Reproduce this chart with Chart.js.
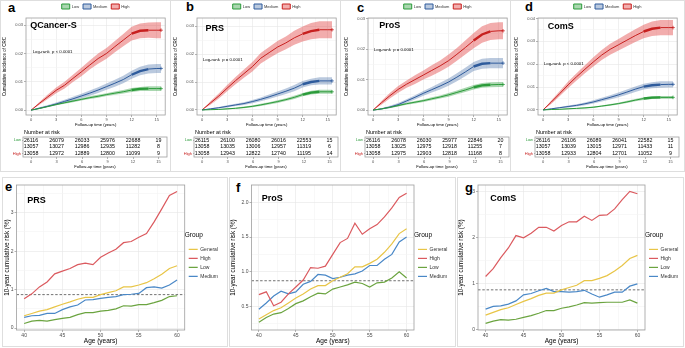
<!DOCTYPE html>
<html>
<head>
<meta charset="utf-8">
<script src="https://cdn.jsdelivr.net/npm/chart.js@4.4.1/dist/chart.umd.min.js"></script>
<style>
  body { margin: 0; background: #fff; width: 685px; height: 348px; position: relative; overflow: hidden;
         font-family: "Liberation Sans", Arial, sans-serif; }
  .box { position: absolute; border: 1px solid #dedede; box-sizing: border-box; }
  .tag { position: absolute; font-weight: bold; font-size: 13px; line-height: 1; }
  canvas { position: absolute; }
</style>
</head>
<body>
<div class="box" style="left:0;top:0;width:171px;height:172px"></div>
<div class="box" style="left:170px;top:0;width:171px;height:172px"></div>
<div class="box" style="left:340px;top:0;width:171px;height:172px"></div>
<div class="box" style="left:510px;top:0;width:175px;height:172px"></div>
<div class="box" style="left:2px;top:177px;width:226px;height:170px"></div>
<div class="box" style="left:229px;top:177px;width:227px;height:170px"></div>
<div class="box" style="left:457px;top:177px;width:227px;height:170px"></div>

<div class="tag" style="left:8px;top:1px">a</div>
<div class="tag" style="left:186px;top:0px">b</div>
<div class="tag" style="left:357px;top:1px">c</div>
<div class="tag" style="left:525px;top:0px">d</div>
<div class="tag" style="left:5px;top:180px">e</div>
<div class="tag" style="left:236px;top:181px">f</div>
<div class="tag" style="left:465px;top:181px">g</div>

<canvas id="kmA" width="170" height="128" style="left:0;top:0"></canvas>
<canvas id="kmB" width="170" height="128" style="left:171px;top:0"></canvas>
<canvas id="kmC" width="170" height="128" style="left:342px;top:0"></canvas>
<canvas id="kmD" width="170" height="128" style="left:512px;top:0"></canvas>
<canvas id="riskA" width="170" height="43" style="left:0;top:127px"></canvas>
<canvas id="riskB" width="170" height="43" style="left:171px;top:127px"></canvas>
<canvas id="riskC" width="170" height="43" style="left:342px;top:127px"></canvas>
<canvas id="riskD" width="170" height="43" style="left:512px;top:127px"></canvas>
<canvas id="ageE" width="225" height="168" style="left:3px;top:178px"></canvas>
<canvas id="ageF" width="226" height="168" style="left:229px;top:178px"></canvas>
<canvas id="ageG" width="226" height="168" style="left:457px;top:178px"></canvas>

<script>
// ---- cumulative incidence curves (a-d) ----
const kmTime = [0, 1, 2, 3, 4, 5, 6, 7, 8, 9, 10, 11, 12, 13, 14, 15, 15.5];

const qcLow    = [0, 0.0006, 0.0013, 0.002, 0.0026, 0.0032, 0.0038, 0.0044, 0.0049, 0.0055, 0.006, 0.0065, 0.0071, 0.0075, 0.0076, 0.0076, 0.0076];
const qcMedium = [0, 0.0007, 0.0014, 0.0022, 0.0031, 0.004, 0.005, 0.006, 0.0071, 0.0083, 0.0095, 0.0108, 0.0125, 0.0138, 0.0145, 0.0147, 0.0147];
const qcHigh   = [0, 0.0024, 0.0047, 0.007, 0.0088, 0.0112, 0.0135, 0.0159, 0.0182, 0.02, 0.0224, 0.0247, 0.027, 0.028, 0.0282, 0.0282, 0.0282];
const qcLowCI    = [0, 0.0002, 0.0002, 0.0003, 0.0003, 0.0004, 0.0004, 0.0005, 0.0005, 0.0005, 0.0006, 0.0006, 0.0007, 0.0007, 0.0008, 0.0008, 0.0008];
const qcMediumCI = [0, 0.0003, 0.0004, 0.0005, 0.0006, 0.0007, 0.0008, 0.0009, 0.001, 0.0011, 0.0012, 0.0013, 0.0014, 0.0015, 0.0016, 0.0016, 0.0016];
const qcHighCI   = [0, 0.0005, 0.0008, 0.001, 0.0012, 0.0013, 0.0015, 0.0016, 0.0018, 0.0019, 0.002, 0.0022, 0.0024, 0.0026, 0.0027, 0.0028, 0.0028];

const prsLow    = [0, 0.0001, 0.0002, 0.0004, 0.0006, 0.0009, 0.0013, 0.0018, 0.0024, 0.003, 0.0037, 0.0045, 0.0055, 0.0062, 0.0065, 0.0065, 0.0065];
const prsMedium = [0, 0.0004, 0.0008, 0.0013, 0.0018, 0.0023, 0.003, 0.0038, 0.0047, 0.0057, 0.0067, 0.0078, 0.0092, 0.01, 0.0104, 0.0104, 0.0104];
const prsHigh   = [0, 0.0025, 0.005, 0.0078, 0.0105, 0.013, 0.0155, 0.0185, 0.0205, 0.0225, 0.024, 0.0258, 0.0272, 0.0282, 0.0287, 0.0287, 0.0287];
const prsLowCI    = [0, 0.0001, 0.0001, 0.0002, 0.0002, 0.0003, 0.0003, 0.0004, 0.0004, 0.0005, 0.0005, 0.0006, 0.0006, 0.0007, 0.0007, 0.0007, 0.0007];
const prsMediumCI = [0, 0.0002, 0.0003, 0.0004, 0.0004, 0.0005, 0.0006, 0.0007, 0.0008, 0.0009, 0.001, 0.0011, 0.0012, 0.0012, 0.0013, 0.0013, 0.0013];
const prsHighCI   = [0, 0.0006, 0.0009, 0.0011, 0.0013, 0.0015, 0.0017, 0.0019, 0.002, 0.0022, 0.0023, 0.0025, 0.0027, 0.0029, 0.003, 0.003, 0.003];

const prosLow    = [0, 0.0004, 0.0009, 0.0015, 0.0021, 0.0026, 0.0031, 0.0037, 0.0043, 0.005, 0.0058, 0.0066, 0.0075, 0.0081, 0.0083, 0.0084, 0.0084];
const prosMedium = [0, 0.0004, 0.001, 0.0018, 0.003, 0.0042, 0.0055, 0.0067, 0.0079, 0.0092, 0.0108, 0.0125, 0.0143, 0.0152, 0.0154, 0.0154, 0.0154];
const prosHigh   = [0, 0.0024, 0.0047, 0.0068, 0.0085, 0.01, 0.0115, 0.013, 0.0145, 0.0162, 0.0183, 0.0205, 0.0228, 0.0248, 0.0258, 0.026, 0.026];
const prosLowCI    = [0, 0.0002, 0.0002, 0.0003, 0.0003, 0.0004, 0.0004, 0.0005, 0.0005, 0.0006, 0.0006, 0.0007, 0.0007, 0.0008, 0.0008, 0.0008, 0.0008];
const prosMediumCI = [0, 0.0002, 0.0004, 0.0005, 0.0006, 0.0007, 0.0008, 0.0009, 0.0011, 0.0012, 0.0013, 0.0014, 0.0015, 0.0016, 0.0017, 0.0017, 0.0017];
const prosHighCI   = [0, 0.0006, 0.0009, 0.0011, 0.0012, 0.0014, 0.0015, 0.0017, 0.0018, 0.002, 0.0021, 0.0023, 0.0025, 0.0027, 0.0028, 0.0028, 0.0028];

const comsLow    = [0, 0.0002, 0.0003, 0.0005, 0.0007, 0.0009, 0.0012, 0.0017, 0.0022, 0.0028, 0.0035, 0.0043, 0.005, 0.0054, 0.0055, 0.0055, 0.0055];
const comsMedium = [0, 0.0005, 0.001, 0.0015, 0.002, 0.0027, 0.0035, 0.0045, 0.0055, 0.0066, 0.0078, 0.0091, 0.0102, 0.0108, 0.0111, 0.0112, 0.0112];
const comsHigh   = [0, 0.0035, 0.0072, 0.011, 0.0145, 0.0178, 0.021, 0.024, 0.0265, 0.0285, 0.0305, 0.0325, 0.0343, 0.0355, 0.036, 0.036, 0.036];
const comsLowCI    = [0, 0.0001, 0.0001, 0.0002, 0.0002, 0.0003, 0.0003, 0.0003, 0.0004, 0.0004, 0.0005, 0.0005, 0.0006, 0.0006, 0.0006, 0.0006, 0.0006];
const comsMediumCI = [0, 0.0002, 0.0003, 0.0004, 0.0005, 0.0006, 0.0007, 0.0008, 0.0009, 0.001, 0.0011, 0.0012, 0.0013, 0.0013, 0.0014, 0.0014, 0.0014];
const comsHighCI   = [0, 0.0008, 0.0011, 0.0014, 0.0016, 0.0018, 0.002, 0.0022, 0.0024, 0.0025, 0.0027, 0.0028, 0.003, 0.0032, 0.0033, 0.0033, 0.0033];

// ---- number at risk ----
const riskTime = [0, 3, 6, 9, 12, 15];
const riskGroups = ['Low', 'Medium', 'High'];
const qcRisk   = [[26116, 26079, 26033, 25976, 22688, 19], [13057, 13027, 12986, 12935, 11282, 8], [13058, 12972, 12889, 12800, 11099, 9]];
const prsRisk  = [[26115, 26100, 26080, 26016, 22553, 15], [13058, 13035, 13006, 12957, 11319, 6], [13058, 12943, 12822, 12740, 11195, 14]];
const prosRisk = [[26116, 26078, 26030, 25977, 22846, 20], [13058, 13025, 12975, 12918, 11255, 7], [13058, 12975, 12903, 12818, 11168, 8]];
const comsRisk = [[26116, 26106, 26089, 26041, 22582, 15], [13057, 13039, 13015, 12971, 11433, 11], [13058, 12933, 12804, 12701, 11052, 9]];

// ---- 10-year cumulative risk by age (e-g) ----
const ages = [40, 41, 42, 43, 44, 45, 46, 47, 48, 49, 50, 51, 52, 53, 54, 55, 56, 57, 58, 59, 60];
const general = [0.32, 0.38, 0.44, 0.48, 0.55, 0.62, 0.68, 0.75, 0.8, 0.8, 0.87, 0.92, 0.97, 1.07, 1.07, 1.12, 1.18, 1.28, 1.4, 1.55, 1.62];
const refRisk = 0.87;

const prsAgeHigh   = [0.76, 0.89, 1.07, 1.2, 1.41, 1.48, 1.55, 1.65, 1.69, 1.65, 1.84, 1.95, 2.05, 2.22, 2.25, 2.36, 2.46, 2.76, 3.1, 3.45, 3.55];
const prsAgeLow    = [0.12, 0.18, 0.2, 0.18, 0.22, 0.25, 0.28, 0.35, 0.4, 0.4, 0.44, 0.46, 0.5, 0.58, 0.57, 0.61, 0.61, 0.66, 0.72, 0.82, 0.84];
const prsAgeMedium = [0.28, 0.32, 0.33, 0.38, 0.38, 0.48, 0.55, 0.6, 0.73, 0.74, 0.77, 0.8, 0.82, 0.87, 0.88, 0.9, 1.05, 1.07, 1.04, 1.12, 1.25];

const prosAgeHigh   = [0.67, 0.71, 0.51, 0.56, 0.68, 0.78, 0.88, 1.06, 1.05, 1.08, 1.25, 1.42, 1.48, 1.7, 1.54, 1.62, 1.68, 1.79, 1.92, 2.07, 2.13];
const prosAgeLow    = [0.27, 0.34, 0.39, 0.41, 0.47, 0.54, 0.58, 0.64, 0.69, 0.68, 0.75, 0.78, 0.81, 0.85, 0.83, 0.78, 0.84, 0.85, 0.91, 1.0, 0.91];
const prosAgeMedium = [0.46, 0.55, 0.65, 0.72, 0.68, 0.71, 0.82, 0.86, 0.96, 0.95, 0.9, 0.92, 0.95, 0.97, 1.01, 1.09, 1.09, 1.18, 1.25, 1.43, 1.5];

const comsAgeHigh   = [1.16, 1.33, 1.57, 1.78, 2.05, 2.0, 2.1, 2.23, 2.23, 2.15, 2.27, 2.35, 2.35, 2.47, 2.38, 2.49, 2.5, 2.63, 2.83, 3.01, 2.96];
const comsAgeLow    = [0.14, 0.19, 0.22, 0.21, 0.23, 0.27, 0.31, 0.36, 0.42, 0.42, 0.47, 0.5, 0.54, 0.59, 0.58, 0.59, 0.6, 0.6, 0.6, 0.65, 0.58];
const comsAgeMedium = [0.45, 0.51, 0.52, 0.56, 0.63, 0.76, 0.79, 0.85, 0.9, 0.83, 0.83, 0.82, 0.83, 0.86, 0.78, 0.71, 0.76, 0.82, 0.82, 0.95, 1.0];

const FONT = '"Liberation Sans", Arial, sans-serif';
const KM_COL = {
    Low:    { line: '#2B9B3A', band: 'rgba(43,155,58,0.4)' },
    Medium: { line: '#2E5B9C', band: 'rgba(46,91,156,0.33)' },
    High:   { line: '#C7201F', band: 'rgba(225,60,60,0.42)' }
};
const AGE_COL = { General: '#E8C547', High: '#DB5A5F', Low: '#6BA440', Medium: '#4A88C7' };

Chart.defaults.font.family = FONT;
Chart.defaults.color = '#4D4D4D';
Chart.defaults.animation = false;

// draw the grey panel border like ggplot
const frame = {
    id: 'frame',
    afterDraw(chart) {
        const { ctx, chartArea: a } = chart;
        ctx.save();
        ctx.strokeStyle = '#9E9E9E';
        ctx.lineWidth = 0.8;
        ctx.strokeRect(a.left, a.top, a.right - a.left, a.bottom - a.top);
        ctx.restore();
    }
};

const panelText = {
    id: 'panelText',
    afterDatasetsDraw(chart, args, opts) {
        const { ctx, scales: { x, y } } = chart;
        ctx.save();
        ctx.fillStyle = '#000';
        ctx.textBaseline = 'middle';
        ctx.font = 'bold ' + opts.titleSize + 'px ' + FONT;
        ctx.fillText(opts.title, x.getPixelForValue(opts.titleAt[0]), y.getPixelForValue(opts.titleAt[1]));
        if (opts.p) {
            ctx.font = '4.3px ' + FONT;
            ctx.fillText(opts.p, x.getPixelForValue(opts.pAt[0]), y.getPixelForValue(opts.pAt[1]));
        }
        ctx.restore();
    }
};

const riskText = {
    id: 'riskText',
    afterDatasetsDraw(chart) {
        const { ctx, chartArea } = chart;
        ctx.save();
        ctx.fillStyle = '#000';
        ctx.textAlign = 'center';
        ctx.textBaseline = 'middle';
        ctx.font = '5.3px ' + FONT;
        chart.data.datasets.forEach((ds, k) => {
            chart.getDatasetMeta(k).data.forEach((pt, i) => ctx.fillText(ds.counts[i], pt.x, pt.y));
        });
        ctx.textAlign = 'left';
        ctx.font = '5.5px ' + FONT;
        ctx.fillText('Number at risk', chartArea.left + 1, chartArea.top - 5);
        ctx.restore();
    }
};

const near = (v, step) => Math.abs(v / step - Math.round(v / step)) < 1e-6;
const gridColor = step => c => (c.tick && near(c.tick.value, step)) ? '#E6E6E6' : '#F3F3F3';
const tickColor = step => c => (c.tick && near(c.tick.value, step)) ? '#7F7F7F' : 'rgba(0,0,0,0)';

function kmChart(id, low, medium, high, lowCI, mediumCI, highCI, yMax, yMin, yTicks, text) {
    const groups = [['Low', low, lowCI], ['Medium', medium, mediumCI], ['High', high, highCI]];
    const datasets = [];
    groups.forEach(([name, est]) => {
        datasets.push({
            label: name,
            data: kmTime.map((t, i) => ({ x: t, y: est[i] })),
            borderColor: KM_COL[name].line,
            backgroundColor: KM_COL[name].band,
            borderWidth: 1,
            pointStyle: 'cross',
            pointBorderWidth: 0.8,
            pointRadius: c => c.dataIndex === kmTime.length - 1 ? 1.8 : 0,
            fill: false,
            order: 0,
            segment: { borderWidth: c => (c.p0.parsed.x >= 11.5 && c.p1.parsed.x <= 14) ? 2.4 : 1 }
        });
    });
    groups.forEach(([name, est, ci]) => {
        datasets.push({
            label: name + ' upper',
            data: kmTime.map((t, i) => ({ x: t, y: est[i] + ci[i] })),
            borderColor: 'rgba(0,0,0,0)', borderWidth: 0, pointRadius: 0,
            backgroundColor: KM_COL[name].band, fill: '+1', order: 1
        });
        datasets.push({
            label: name + ' lower',
            data: kmTime.map((t, i) => ({ x: t, y: est[i] - ci[i] })),
            borderColor: 'rgba(0,0,0,0)', borderWidth: 0, pointRadius: 0, fill: false, order: 1
        });
    });

    new Chart(document.getElementById(id), {
        type: 'line',
        data: { datasets },
        options: {
            responsive: false,
            events: [],
            layout: { padding: { top: 0, left: 2, right: 3, bottom: 1 } },
            plugins: {
                legend: {
                    position: 'top',
                    fullSize: false,
                    maxHeight: 18,
                    labels: {
                        font: { size: 4 }, color: '#333', boxWidth: 8, boxHeight: 5, padding: 4,
                        filter: item => item.datasetIndex < 3
                    }
                },
                tooltip: { enabled: false },
                panelText: text
            },
            scales: {
                x: {
                    type: 'linear', min: -0.6, max: 16,
                    afterBuildTicks: s => { s.ticks = [0, 1.5, 3, 4.5, 6, 7.5, 9, 10.5, 12, 13.5, 15].map(v => ({ value: v })); },
                    afterFit: s => { s.height = 12; },
                    border: { display: false },
                    grid: { color: gridColor(3), lineWidth: 0.6, tickLength: 2, tickColor: tickColor(3) },
                    ticks: { font: { size: 4 }, padding: 0.5, maxRotation: 0, callback: v => near(v, 3) ? v : '' },
                    title: { display: true, text: 'Follow-up time (years)', font: { size: 4.2 }, color: '#000', padding: 0 }
                },
                y: {
                    type: 'linear', min: yMin, max: yMax,
                    afterBuildTicks: s => { s.ticks = yTicks.map(v => ({ value: v })); },
                    afterFit: s => { s.width = 24; },
                    border: { display: false },
                    grid: { color: gridColor(0.01), lineWidth: 0.6, tickLength: 2, tickColor: tickColor(0.01) },
                    ticks: { font: { size: 4 }, padding: 1, callback: v => near(v, 0.01) ? v.toFixed(2) : '' },
                    title: { display: true, text: 'Cumulative incidence of CRC', font: { size: 4.5 }, color: '#000', padding: 0 }
                }
            }
        },
        plugins: [frame, panelText]
    });
}

function riskChart(id, counts) {
    new Chart(document.getElementById(id), {
        type: 'scatter',
        data: {
            datasets: riskGroups.map((g, k) => ({
                label: g,
                data: riskTime.map(t => ({ x: t, y: g })),
                counts: counts[k],
                pointRadius: 0
            }))
        },
        options: {
            responsive: false,
            events: [],
            layout: { padding: { top: 10, left: 0, right: 3, bottom: 1 } },
            plugins: { legend: { display: false }, tooltip: { enabled: false } },
            scales: {
                x: {
                    type: 'linear', min: -0.95, max: 16,
                    afterBuildTicks: s => { s.ticks = riskTime.map(v => ({ value: v })); },
                    afterFit: s => { s.height = 12; },
                    border: { display: false },
                    grid: { drawOnChartArea: false, tickLength: 2, tickColor: '#7F7F7F', lineWidth: 0.6 },
                    ticks: { font: { size: 4 }, padding: 0.5, maxRotation: 0 },
                    title: { display: true, text: 'Follow-up time (years)', font: { size: 4.2 }, color: '#000', padding: 0 }
                },
                y: {
                    type: 'category', labels: riskGroups, offset: true,
                    afterFit: s => { s.width = 23; },
                    border: { display: false },
                    grid: { drawOnChartArea: false, tickLength: 1, tickColor: '#7F7F7F', lineWidth: 0.6 },
                    ticks: { font: { size: 4 }, padding: 1, color: c => KM_COL[riskGroups[c.index]].line }
                }
            }
        },
        plugins: [frame, riskText]
    });
}

function ageChart(id, high, low, medium, yMin, yMax, yTicks, yMajor, yDigits, yWidth, legendWidth, text) {
    const series = [['General', general], ['High', high], ['Low', low], ['Medium', medium]];
    const datasets = series.map(([name, vals]) => ({
        label: name,
        data: ages.map((a, i) => ({ x: a, y: vals[i] })),
        borderColor: AGE_COL[name],
        backgroundColor: AGE_COL[name],
        borderWidth: 1.2,
        pointRadius: 0,
        fill: false
    }));
    datasets.push({
        label: 'ref',
        data: [{ x: 39, y: refRisk }, { x: 61, y: refRisk }],
        borderColor: '#333', borderWidth: 0.7, borderDash: [2.5, 1.8], pointRadius: 0, fill: false
    });

    new Chart(document.getElementById(id), {
        type: 'line',
        data: { datasets },
        options: {
            responsive: false,
            events: [],
            layout: { padding: { top: 7, left: 0, right: 0, bottom: 1 } },
            plugins: {
                legend: {
                    position: 'right',
                    fullSize: false,
                    maxWidth: legendWidth,
                    title: { display: true, text: 'Group', font: { size: 6.5 }, color: '#000', position: 'start', padding: { top: 0, bottom: 3 } },
                    labels: {
                        font: { size: 5 }, color: '#333', usePointStyle: true, pointStyle: 'line',
                        pointStyleWidth: 9, padding: 4,
                        filter: item => item.text !== 'ref'
                    }
                },
                tooltip: { enabled: false },
                panelText: text
            },
            scales: {
                x: {
                    type: 'linear', min: 39, max: 61,
                    afterBuildTicks: s => { s.ticks = [40, 42.5, 45, 47.5, 50, 52.5, 55, 57.5, 60].map(v => ({ value: v })); },
                    afterFit: s => { s.height = 15; },
                    border: { display: false },
                    grid: { color: gridColor(5), lineWidth: 0.6, tickLength: 2, tickColor: tickColor(5) },
                    ticks: { font: { size: 5 }, padding: 0.5, maxRotation: 0, callback: v => near(v, 5) ? v : '' },
                    title: { display: true, text: 'Age (years)', font: { size: 6.5 }, color: '#000', padding: 0 }
                },
                y: {
                    type: 'linear', min: yMin, max: yMax,
                    afterBuildTicks: s => { s.ticks = yTicks.map(v => ({ value: v })); },
                    afterFit: s => { s.width = yWidth; },
                    border: { display: false },
                    grid: { color: gridColor(yMajor), lineWidth: 0.6, tickLength: 2, tickColor: tickColor(yMajor) },
                    ticks: { font: { size: 5 }, padding: 1, callback: v => near(v, yMajor) ? v.toFixed(yDigits) : '' },
                    title: { display: true, text: '10-year cumulative risk (%)', font: { size: 6.3 }, color: '#000', padding: 0 }
                }
            }
        },
        plugins: [frame, panelText]
    });
}

const kmTicks3 = [0, 0.005, 0.01, 0.015, 0.02, 0.025, 0.03];
const kmTicks4 = [0, 0.005, 0.01, 0.015, 0.02, 0.025, 0.03, 0.035, 0.04];

kmChart('kmA', qcLow, qcMedium, qcHigh, qcLowCI, qcMediumCI, qcHighCI, 0.0325, -0.0017, kmTicks3,
    { title: 'QCancer-S', titleSize: 9, titleAt: [-0.1, 0.030], p: 'Log-rank  p < 0.0001', pAt: [0.2, 0.0205] });
kmChart('kmB', prsLow, prsMedium, prsHigh, prsLowCI, prsMediumCI, prsHighCI, 0.0329, -0.0018, kmTicks3,
    { title: 'PRS', titleSize: 9, titleAt: [0.4, 0.029], p: 'Log-rank  p = 0.0001', pAt: [0.1, 0.0179] });
kmChart('kmC', prosLow, prosMedium, prosHigh, prosLowCI, prosMediumCI, prosHighCI, 0.0302, -0.0016, kmTicks3,
    { title: 'ProS', titleSize: 9, titleAt: [0.75, 0.0278], p: 'Log-rank  p = 0.0001', pAt: [0.1, 0.0199] });
kmChart('kmD', comsLow, comsMedium, comsHigh, comsLowCI, comsMediumCI, comsHighCI, 0.0402, -0.0022, kmTicks4,
    { title: 'ComS', titleSize: 9, titleAt: [0.55, 0.0363], p: 'Log-rank  p < 0.0001', pAt: [0.1, 0.0202] });

riskChart('riskA', qcRisk);
riskChart('riskB', prsRisk);
riskChart('riskC', prosRisk);
riskChart('riskD', comsRisk);

ageChart('ageE', prsAgeHigh, prsAgeLow, prsAgeMedium, -0.05, 3.72, [0, 0.5, 1, 1.5, 2, 2.5, 3, 3.5], 1, 0, 13.5, 44,
    { title: 'PRS', titleSize: 9, titleAt: [40.4, 3.32] });
ageChart('ageF', prosAgeHigh, prosAgeLow, prosAgeMedium, 0.16, 2.25, [0.25, 0.5, 0.75, 1, 1.25, 1.5, 1.75, 2], 0.5, 1, 22.5, 41,
    { title: 'ProS', titleSize: 9, titleAt: [40.4, 2.06] });
ageChart('ageG', comsAgeHigh, comsAgeLow, comsAgeMedium, -0.0035, 3.15, [0, 0.5, 1, 1.5, 2, 2.5, 3], 1, 0, 21, 38,
    { title: 'ComS', titleSize: 9, titleAt: [40.6, 2.85] });
</script>
</body>
</html>
